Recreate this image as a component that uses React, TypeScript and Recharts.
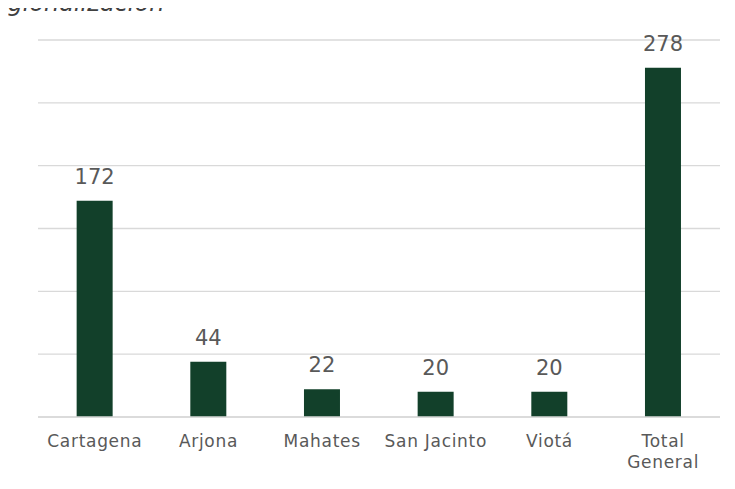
import { Bar, BarChart, CartesianGrid, LabelList, XAxis, YAxis } from "recharts";

const categories = ["Cartagena", "Arjona", "Mahates", "San Jacinto", "Viotá", "Total General"];
const counts = [172, 44, 22, 20, 20, 278];
const yTicks = [0, 50, 100, 150, 200, 250, 300];

const data = categories.map((name, i) => ({ name, value: counts[i] }));

const FONT = "'DejaVu Sans', sans-serif";
const GREEN = "#12402a";
const TEXT = "#595959";

function CategoryTick(props: any) {
  const { x, y, payload } = props;
  const label: string = payload.value;
  // only the long total label wraps onto two lines
  const lines = label === "Total General" ? ["Total", "General"] : [label];
  return (
    <text x={x} y={y} textAnchor="middle" fill={TEXT} fontSize={17} letterSpacing={0.7} fontFamily={FONT}>
      {lines.map((l, i) => (
        <tspan key={l} x={x} dy={i === 0 ? 22 : 21}>
          {l}
        </tspan>
      ))}
    </text>
  );
}

export default function App() {
  return (
    <div style={{ position: "relative", margin: -8, width: 735, height: 489, overflow: "hidden", background: "#fff" }}>
      <BarChart
        width={735}
        height={489}
        data={data}
        margin={{ top: 40, right: 15, left: 38, bottom: 0 }}
        barCategoryGap="34%"
      >
        <CartesianGrid vertical={false} stroke="#d9d9d9" strokeWidth={1.3} />
        <XAxis
          dataKey="name"
          height={72}
          interval={0}
          tickLine={false}
          axisLine={{ stroke: "#d9d9d9", strokeWidth: 1.5 }}
          tick={<CategoryTick />}
        />
        <YAxis hide domain={[0, 300]} ticks={yTicks} />
        <Bar dataKey="value" fill={GREEN} isAnimationActive={false}>
          <LabelList
            dataKey="value"
            position="top"
            offset={17}
            fill={TEXT}
            fontSize={21}
            fontFamily={FONT}
          />
        </Bar>
      </BarChart>
      <div
        style={{
          position: "absolute", left: -24, top: -11, zIndex: 2, fontFamily: FONT, fontStyle: "italic",
          fontSize: 24, color: "#404040", whiteSpace: "nowrap", lineHeight: "normal",
        }}
      >
        Regionalización
      </div>
    </div>
  );
}
